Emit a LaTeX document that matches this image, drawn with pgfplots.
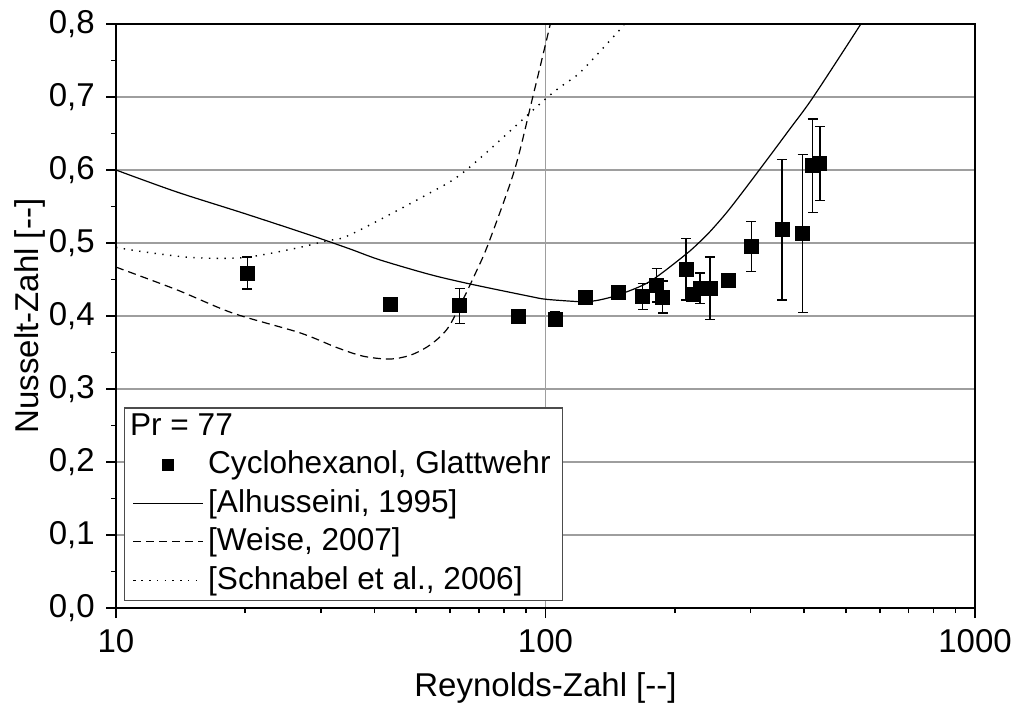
\documentclass[border=0pt]{standalone}
\usepackage{fontspec}
\setmainfont{Liberation Sans}
\usepackage{pgfplots}
\usepackage{pgfplotstable}
\pgfplotsset{compat=1.18}

% Measured Nusselt numbers with their uncertainties
\pgfplotstableread{
Re     Nu     err
20.2   0.459  0.022
43.6   0.416  0
63.1   0.414  0.024
86.5   0.399  0
105.5  0.396  0.010
123.9  0.426  0
147.8  0.432  0
168.4  0.427  0.018
181.5  0.442  0.023
187.4  0.426  0.022
212.4  0.464  0.042
221.3  0.430  0
228.9  0.438  0.021
241.5  0.438  0.043
266.9  0.449  0
301.3  0.495  0.034
355.2  0.518  0.096
396.7  0.513  0.108
418.5  0.606  0.064
435.3  0.609  0.051
}\measured

% Correlation by Alhusseini (1995)
\pgfplotstableread{
Re     Nu
10     0.600
13.84  0.570
19.77  0.541
28.26  0.511
35.0   0.492
41.1   0.477
53.7   0.457
66.6   0.444
91.8   0.427
100    0.423
116.8  0.420
123.9  0.4195
133.6  0.422
147.8  0.429
174.6  0.447
211.7  0.484
228.1  0.501
241.9  0.516
267.7  0.546
314.6  0.600
369.3  0.655
420.1  0.700
542.2  0.800
560    0.815
}\alhusseini

% Correlation by Weise (2007)
\pgfplotstableread{
Re     Nu
10     0.467
13.84  0.436
18.7   0.404
26.8   0.377
32.6   0.357
37.6   0.345
43.4   0.341
48.3   0.346
52.8   0.357
56.7   0.371
59.8   0.387
64.2   0.422
69.0   0.461
73.6   0.499
84.7   0.600
93.4   0.700
102.6  0.800
104.5  0.825
}\weise

% Correlation by Schnabel et al. (2006)
\pgfplotstableread{
Re     Nu
10     0.494
11.57  0.488
15.12  0.480
19.77  0.480
25.84  0.492
30.9   0.503
35.0   0.511
52.8   0.566
65.4   0.600
101.2  0.700
117.9  0.729
126.6  0.747
147.3  0.789
152.7  0.800
158    0.812
}\schnabel

\begin{document}
\fontsize{16.5}{19.8}\selectfont
\begin{tikzpicture}
\begin{axis}[
  at={(0,0)}, anchor=south west,
  scale only axis, width=429.5pt, height=292pt,
  xmode=log, xmin=10, xmax=1000, ymin=0, ymax=0.8,
  xtick={10,100,1000}, xticklabels={10,100,1000},
  ytick={0,0.1,0.2,0.3,0.4,0.5,0.6,0.7,0.8},
  minor y tick num=1,
  yticklabel style={/pgf/number format/.cd, fixed, fixed zerofill, precision=1, use comma},
  /pgf/number format/assume math mode=true,
  tick align=outside, tick pos=left,
  major tick length=5pt, minor tick length=2.5pt,
  every tick/.style={black, line width=0.8pt},
  xmajorgrids, ymajorgrids,
  major grid style={black!38, line width=0.7pt},
  axis line style={line width=1pt},
  xlabel={Reynolds-Zahl [-{}-]},
  ylabel={Nusselt-Zahl [-{}-]},
  xlabel style={at={(axis description cs:0.5,-0.137)}, anchor=center},
  ylabel style={at={(axis description cs:-0.1,0.5)}, anchor=center},
  legend cell align=left,
  legend image code/.code={\draw[mark repeat=2,mark phase=2,#1] plot coordinates {(0pt,0pt) (17.5pt,0pt) (35pt,0pt)};},
  legend style={at={(axis description cs:0.0093,0.012)}, anchor=south west,
    draw=black!70, line width=0.75pt, inner xsep=4pt, inner ysep=1pt,
    font=\fontsize{15.8}{18.5}\selectfont, row sep=1.3pt},
]
\addlegendimage{empty legend}
\addlegendentry{\hspace{-39pt}Pr = 77}

\addplot[only marks, mark=square*, mark size=3.5pt, black,
  legend image post style={mark size=2.6pt},
  error bars/.cd, y dir=both, y explicit,
  error bar style={line width=0.65pt, black},
  error mark options={rotate=90, mark size=2.5pt, line width=0.65pt}]
  table[x=Re, y=Nu, y error=err] {\measured};
\addlegendentry{Cyclohexanol, Glattwehr}

\addplot[black, line width=0.6pt, smooth, no marks] table[x=Re, y=Nu] {\alhusseini};
\addlegendentry{[Alhusseini, 1995]}

\addplot[black, line width=0.6pt, dash pattern=on 4pt off 2.5pt, smooth, no marks] table[x=Re, y=Nu] {\weise};
\addlegendentry{[Weise, 2007]}

\addplot[black, line width=0.7pt, dash pattern=on 0.7pt off 3.2pt, smooth, no marks] table[x=Re, y=Nu] {\schnabel};
\addlegendentry{[Schnabel et al., 2006]}
\end{axis}
\pgfresetboundingbox
\path (-58pt,-50pt) rectangle (447.5pt,304pt);
\end{tikzpicture}
\end{document}
